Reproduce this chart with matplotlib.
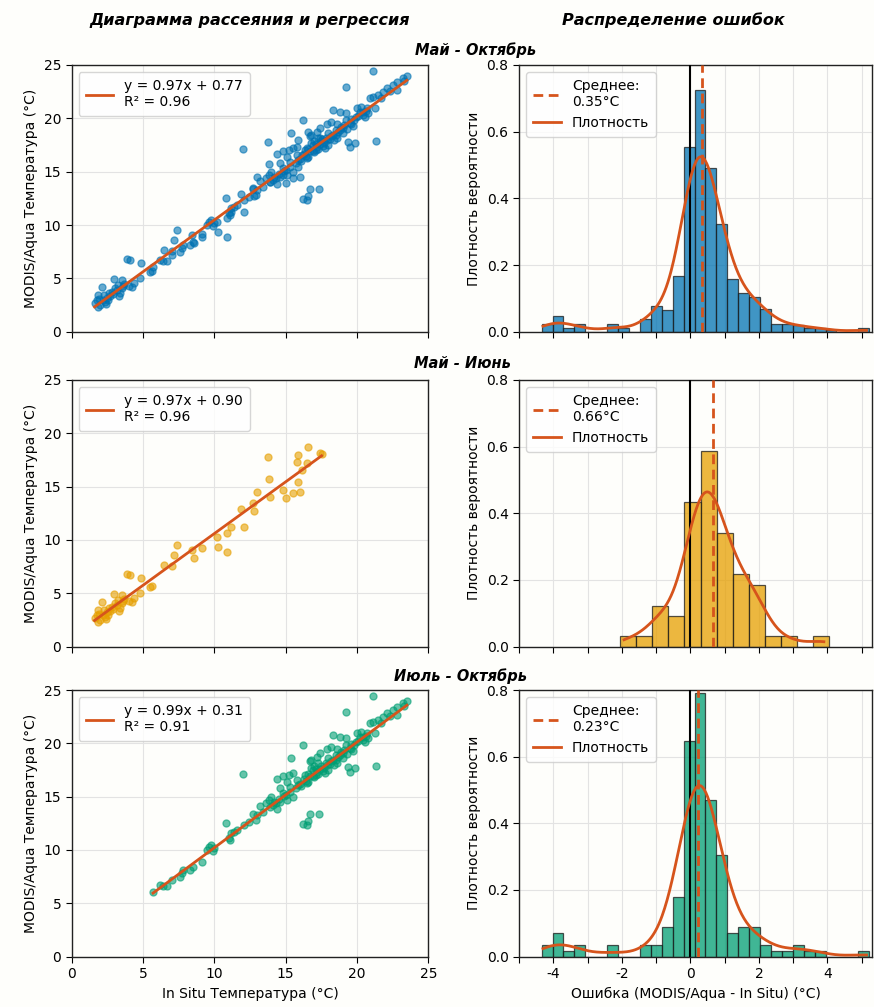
import numpy as np
import matplotlib
matplotlib.use("Agg")
import matplotlib.pyplot as plt
from matplotlib.ticker import MultipleLocator, FuncFormatter

# ---------------- data ----------------
periods = ["Май - Октябрь", "Май - Июнь", "Июль - Октябрь"]
col_titles = ["Диаграмма рассеяния и регрессия", "Распределение ошибок"]

# May-June in-situ (x) and MODIS (y)
mj_x = [1.6, 1.75, 1.85, 1.86, 2.0, 2.1, 2.2, 2.33, 2.45, 2.56, 2.7, 2.8, 3.0, 3.15, 3.27,
        3.38, 3.5, 3.5, 3.6, 3.9, 4.1, 4.2, 4.4, 4.8, 4.86, 5.5, 5.6, 6.5, 7.0, 7.2,
        7.4, 8.4, 8.6, 9.1, 10.16, 10.27, 10.86, 10.9, 11.2, 11.84, 12.07, 12.73, 12.78, 12.96,
        13.78, 13.85, 13.9, 14.83, 15.02, 15.53, 15.77, 15.88, 15.88, 16.0, 16.12, 16.47, 16.58,
        17.4, 17.52, 2.4, 2.9, 3.3, 1.9, 2.6, 4.0, 3.7, 2.25, 3.05]
mj_y = [2.65, 2.95, 3.4, 2.35, 2.5, 4.2, 3.0, 2.8, 3.2, 2.97, 3.3, 3.74, 4.9, 3.9, 4.37,
        3.6, 4.06, 4.84, 4.3, 6.8, 6.7, 4.2, 4.6, 5.06, 6.4, 5.6, 5.7, 7.65, 7.56, 8.6,
        9.56, 9.06, 8.3, 9.2, 10.25, 9.32, 10.68, 8.87, 11.2, 12.88, 11.19, 13.5, 12.75, 14.47,
        17.81, 15.69, 14.06, 14.69, 13.91, 14.44, 17.35, 17.97, 15.47, 14.53, 16.57, 17.25, 18.7,
        18.13, 18.07, 2.6, 3.5, 3.3, 3.1, 3.6, 4.3, 4.5, 3.45, 4.1]

# July-October in-situ (x) and MODIS (y)
jo_x = [5.7, 6.2, 6.4, 6.7, 7.0, 7.6, 7.7, 7.8, 8.3, 8.5, 9.1, 9.5, 9.6, 9.8, 10.0, 9.9,
        10.8, 11.0, 11.1, 11.2, 11.4, 11.6, 12.0,
        12.7, 12.9, 13.2, 13.4, 13.6, 13.8, 13.9, 14.0, 14.2, 14.4, 14.4, 14.6, 14.6, 14.8,
        14.8, 15.1, 15.1, 15.2, 15.3, 15.4, 15.5, 15.5, 15.8, 15.0, 14.3, 13.0, 12.4, 12.1,
        16.2, 16.5, 16.6, 16.7, 17.35,
        16.0, 16.2, 16.35, 16.4, 16.5, 16.6, 16.7, 16.7, 16.8, 16.9, 17.0, 17.1, 17.2, 17.2,
        17.3, 17.4, 17.5, 17.6, 17.75, 17.8, 17.9, 18.0, 18.0, 18.1, 18.2, 18.3, 18.3, 18.4,
        18.5, 18.6, 18.7, 18.8, 18.9, 19.0, 19.1, 19.2, 19.25, 19.4, 19.5, 19.5, 19.6, 19.7,
        19.85, 19.9, 20.0, 20.2, 20.3, 20.4, 20.55, 20.7, 20.9, 21.1, 21.14, 21.25, 21.3,
        21.5, 21.8, 22.1, 22.5, 22.8, 22.8, 23.2, 23.5, 23.3, 22.3, 21.7,
        16.1, 16.3, 15.9, 16.6, 16.9, 17.1, 17.4, 17.7, 17.9, 18.2, 18.5, 18.8, 19.0, 19.3,
        19.6, 19.8, 20.1, 20.4, 20.6, 20.8, 17.0, 17.3, 16.8, 18.6, 19.2, 15.7, 15.3, 14.9,
        14.5, 14.1]
jo_y = [6.1, 6.7, 6.6, 6.6, 7.2, 7.5, 7.8, 8.1, 8.1, 8.4, 8.9, 10.0, 10.3, 10.5, 10.2, 9.9,
        12.5, 11.1, 10.9, 11.6, 11.7, 11.9, 17.1,
        13.4, 12.8, 14.1, 13.6, 14.4, 14.7, 14.0, 15.0, 14.5, 13.8, 16.7, 14.5, 15.8, 16.9,
        15.3, 14.7, 16.4, 17.0, 15.9, 18.6, 15.0, 17.2, 16.6, 15.2, 14.4, 13.3, 12.6, 12.3,
        12.4, 12.35, 12.7, 13.4, 13.4,
        16.2, 19.85, 17.0, 16.5, 16.3, 17.1, 16.9, 18.3, 18.4, 17.5, 16.8, 17.6, 17.35, 18.75,
        17.1, 19.1, 17.9, 17.4, 17.2, 18.2, 19.5, 17.5, 18.6, 18.1, 19.7, 18.4, 20.8, 18.0,
        18.9, 19.5, 18.75, 20.6, 19.2, 18.6, 19.4, 22.9, 20.5, 17.8, 17.35, 19.6, 19.9, 19.3,
        17.7, 20.1, 20.95, 20.6, 21.1, 20.3, 20.1, 21.0, 21.9, 22.0, 24.45, 20.95, 17.9,
        22.2, 22.5, 22.8, 23.1, 23.4, 22.7, 23.8, 24.0, 23.5, 22.6, 21.9,
        16.0, 16.7, 16.1, 16.4, 16.9, 17.0, 17.6, 17.7, 18.0, 18.3, 18.4, 18.9, 19.1, 19.0,
        19.5, 19.8, 20.2, 20.6, 20.7, 20.5, 17.9, 18.2, 17.7, 18.2, 19.8, 15.8, 15.4, 15.1,
        14.8, 14.2]

slopes = [0.97, 0.97, 0.99]
intercepts = [0.77, 0.90, 0.31]
r2_values = [0.96, 0.96, 0.91]
mean_errors = [0.35, 0.66, 0.23]
sample_sizes = [261, 69, 175]

# error histograms (density heights), bin range
hist_ranges = [(-4.34, 5.22), (-2.05, 4.05), (-4.34, 5.22)]
hist_may_oct = [0.024, 0.048, 0.012, 0.024, 0.0, 0.0, 0.024, 0.012, 0.0, 0.038,
                0.078, 0.065, 0.168, 0.555, 0.724, 0.491, 0.324, 0.157, 0.117, 0.105,
                0.067, 0.024, 0.024, 0.02, 0.012, 0.012, 0.006, 0.0, 0.0, 0.012]
hist_may_jun = [0.031, 0.031, 0.123, 0.093, 0.433, 0.588, 0.34, 0.217, 0.185, 0.031,
                0.031, 0.0, 0.031]
hist_jul_oct = [0.036, 0.072, 0.018, 0.036, 0.0, 0.0, 0.036, 0.0, 0.0, 0.036,
                0.036, 0.09, 0.18, 0.648, 0.79, 0.469, 0.306, 0.072, 0.09, 0.09,
                0.036, 0.018, 0.018, 0.036, 0.018, 0.018, 0.0, 0.0, 0.0, 0.018]
hists = [hist_may_oct, hist_may_jun, hist_jul_oct]

scatter_x = [mj_x + jo_x, mj_x, jo_x]
scatter_y = [mj_y + jo_y, mj_y, jo_y]

colors = ["#0072B2", "#E69F00", "#009E73"]
red = "#D6541C"

# ---------------- figure ----------------
W, H = 874, 1007
fig = plt.figure(figsize=(W / 100, H / 100), dpi=100)
fig.patch.set_facecolor("#fefefb")


def rect(l, t, r, b):
    return [l / W, 1 - b / H, (r - l) / W, (b - t) / H]


rows_px = [(65, 331.7), (380, 646.6), (690, 956.6)]
title_x = [476, 462, 460]
title_y = [50, 364, 676]

fs = 10
for i in range(3):
    t, b = rows_px[i]
    axL = fig.add_axes(rect(71.7, t, 428.3, b))
    axR = fig.add_axes(rect(519, t, 872, b))
    for ax in (axL, axR):
        ax.set_facecolor("#fefefb")
        ax.grid(True, color="#e3e3e3", linewidth=0.8)
        ax.set_axisbelow(True)
        ax.tick_params(labelsize=fs, length=4)
        for s in ax.spines.values():
            s.set_color("#222222")
            s.set_linewidth(1.0)

    # scatter + regression
    xs = np.array(scatter_x[i]); ys = np.array(scatter_y[i])
    axL.scatter(xs, ys, s=26, color=colors[i], alpha=0.6, edgecolors=colors[i],
                linewidths=0.9, zorder=2)
    xl = np.array([xs.min(), xs.max()])
    axL.plot(xl, slopes[i] * xl + intercepts[i], color=red, lw=2,
             label=f"y = {slopes[i]:.2f}x + {intercepts[i]:.2f}\nR² = {r2_values[i]:.2f}",
             zorder=3)
    axL.set_xlim(0, 25); axL.set_ylim(0, 25)
    axL.xaxis.set_major_locator(MultipleLocator(5))
    axL.yaxis.set_major_locator(MultipleLocator(5))
    axL.set_ylabel("MODIS/Aqua Температура (°C)", fontsize=fs)
    axL.legend(loc="upper left", fontsize=fs, handlelength=2.0, borderpad=0.5,
               labelspacing=0.3)

    # histogram + kde
    h = np.array(hists[i])
    lo, hi = hist_ranges[i]
    edges = np.linspace(lo, hi, len(h) + 1)
    width = edges[1] - edges[0]
    centers = (edges[:-1] + edges[1:]) / 2
    axR.bar(centers, h, width=width, color=colors[i], alpha=0.75, edgecolor="#1a1a1a",
            linewidth=0.9, zorder=2)
    w = h * width
    w = w / w.sum()
    mu = np.sum(w * centers)
    sd = np.sqrt(np.sum(w * (centers - mu) ** 2))
    bw = sd * sample_sizes[i] ** (-0.2)
    grid = np.linspace(lo + width / 2 - 0.12, hi - width / 2 + 0.08, 400)
    dens = np.sum(w[None, :] * np.exp(-0.5 * ((grid[:, None] - centers[None, :]) / bw) ** 2)
                  / (bw * np.sqrt(2 * np.pi)), axis=1)
    axR.axvline(0, color="black", lw=1.5, zorder=3)
    axR.axvline(mean_errors[i], color=red, lw=2, ls=(0, (3.5, 2)), zorder=4,
                label=f"Среднее:\n{mean_errors[i]:.2f}°C")
    axR.plot(grid, dens, color=red, lw=2, zorder=5, label="Плотность")
    axR.set_xlim(-5.0, 5.3); axR.set_ylim(0, 0.8)
    axR.xaxis.set_major_locator(MultipleLocator(1))
    axR.yaxis.set_major_locator(MultipleLocator(0.2))
    axR.yaxis.set_major_formatter(FuncFormatter(lambda v, p: f"{v:.1f}"))
    axR.set_ylabel("Плотность вероятности", fontsize=fs)
    axR.legend(loc="upper left", fontsize=fs, handlelength=2.0, borderpad=0.5,
               labelspacing=0.5)

    if i < 2:
        axL.tick_params(labelbottom=False)
        axR.tick_params(labelbottom=False)
    else:
        axL.set_xlabel("In Situ Температура (°C)", fontsize=fs)
        axR.set_xlabel("Ошибка (MODIS/Aqua - In Situ) (°C)", fontsize=fs)
        axR.xaxis.set_major_formatter(
            FuncFormatter(lambda v, p: f"{int(round(v))}" if int(round(v)) % 2 == 0 else ""))

    fig.text(title_x[i] / W, 1 - title_y[i] / H, periods[i], ha="center", va="center",
             fontsize=10.5, fontweight="bold", fontstyle="italic")

fig.text(250 / W, 1 - 20 / H, col_titles[0], ha="center", va="center",
         fontsize=11.5, fontweight="bold", fontstyle="italic")
fig.text(673 / W, 1 - 20 / H, col_titles[1], ha="center", va="center",
         fontsize=11.5, fontweight="bold", fontstyle="italic")

fig.savefig("out.png", dpi=100, facecolor=fig.get_facecolor())
